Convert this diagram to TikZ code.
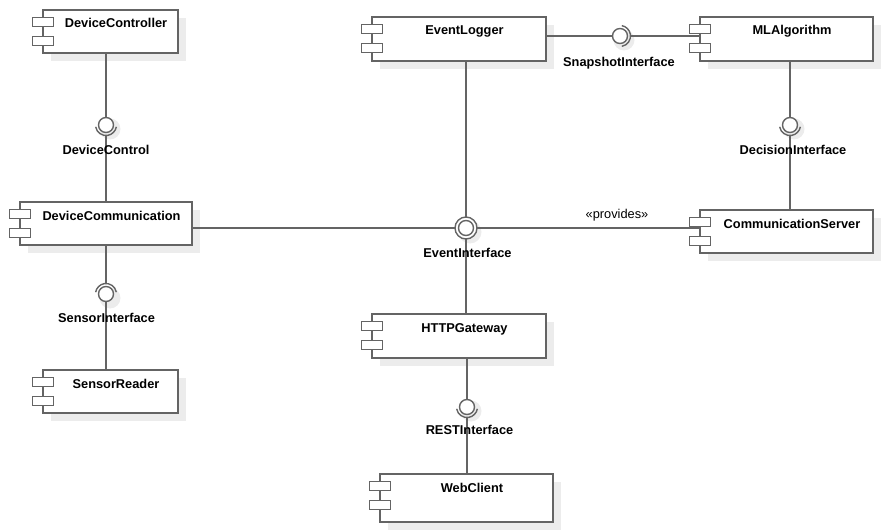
\documentclass[tikz,border=0pt]{standalone}
\usepackage{fontspec}
\setmainfont{Liberation Sans}
\definecolor{linec}{RGB}{100,100,100}
\definecolor{shadc}{RGB}{236,236,236}
\pgfdeclarelayer{bg}
\pgfdeclarelayer{fg}
\pgfsetlayers{bg,main,fg}
\tikzset{
  conn/.style={draw=linec, line width=1.4pt},
  compbox/.style={draw=linec, line width=1.4pt, fill=white, rectangle, inner sep=0pt, outer sep=0pt},
  portbox/.style={draw=linec, line width=1.4pt, fill=white},
  ttl/.style={font=\fontsize{12.8}{15}\selectfont\bfseries, inner sep=0pt, anchor=base, text=black},
  stereo/.style={font=\fontsize{12.8}{15}\selectfont, inner sep=0pt, anchor=base, text=black},
  ballnode/.style={circle, draw=linec, line width=1.4pt, fill=white, minimum size=15pt, inner sep=0pt, outer sep=0pt},
  shad/.style={fill=shadc},
}
% #1 name, #2 left, #3 top, #4 right, #5 bottom, #6 text
\newcommand\umlcomp[6]{%
  \begin{pgfonlayer}{bg}
    \fill[shad] (#2+8,-#3-8) rectangle (#4+8,-#5-8);
  \end{pgfonlayer}
  \node[compbox, minimum width={(#4-#2)*1pt}, minimum height={(#5-#3)*1pt}] (#1) at ({(#2+#4)/2},{-(#3+#5)/2}) {};
  \begin{pgfonlayer}{fg}
    \draw[portbox] (#2-10.5,-#3-7.5) rectangle (#2+10.5,-#3-16.5);
    \draw[portbox] (#2-10.5,-#3-26.5) rectangle (#2+10.5,-#3-35.5);
    \node[ttl] (#1-t) at ({(#2+#4)/2+5.5},-#3-18) {#6};
  \end{pgfonlayer}
}
% #1 name, #2 x, #3 y, #4 socket angle, #5 text, #6 label x, #7 label y
\newcommand\lolli[7]{%
  \begin{pgfonlayer}{bg}
    \fill[shad] (#2+4,-#3-4) circle (10.5);
  \end{pgfonlayer}
  \node[ballnode] (#1) at (#2,-#3) {};
  \draw[conn] ([shift={(#4-80:10.5pt)}]#1.center) arc[start angle=#4-80, end angle=#4+80, radius=10.5pt];
  \coordinate (#1-s) at ([shift={(#4:10.5pt)}]#1.center);
  \begin{pgfonlayer}{fg}
    \node[ttl] (#1-l) at (#6,-#7-4.6) {#5};
  \end{pgfonlayer}
}
\begin{document}
\begin{tikzpicture}[x=1pt,y=1pt]
\useasboundingbox (0,0) rectangle (884,-532);

\umlcomp{devctl}{43}{10}{178}{53}{DeviceController}
\umlcomp{devcom}{20}{202}{192}{245}{DeviceCommunication}
\umlcomp{sensor}{43}{370}{178}{413}{SensorReader}
\umlcomp{evlog}{372}{17}{546}{61}{EventLogger}
\umlcomp{ml}{700}{17}{873}{61}{MLAlgorithm}
\umlcomp{csrv}{700}{210}{873}{253}{CommunicationServer}
\umlcomp{http}{372}{314}{546}{358}{HTTPGateway}
\umlcomp{web}{380}{474}{553}{522}{WebClient}

\lolli{dctrl}{106}{125}{270}{DeviceControl}{106}{150}
\lolli{sens}{106}{294}{90}{SensorInterface}{106.5}{318}
\lolli{snap}{620}{36}{0}{SnapshotInterface}{619}{62}
\lolli{dec}{790}{125}{270}{DecisionInterface}{793}{150}
\lolli{rest}{467}{407}{270}{RESTInterface}{469.5}{430}

\begin{pgfonlayer}{bg}
  \fill[shad] (470,-232) circle (11.5);
\end{pgfonlayer}
\node[circle, draw=linec, line width=1.4pt, fill=white, minimum size=22pt, inner sep=0pt, outer sep=0pt] (evi) at (466,-228) {};
\node[ballnode] (eviin) at (evi.center) {};
\begin{pgfonlayer}{fg}
  \node[ttl] (evil) at (467.5,-257.6) {EventInterface};
  \node[stereo] (prov) at (617,-218.6) {«provides»};
\end{pgfonlayer}

\draw[conn] (dctrl.north |- devctl.south) -- (dctrl.north);
\draw[conn] (dctrl-s) -- (dctrl-s |- devcom.north);
\draw[conn] (sens-s |- devcom.south) -- (sens-s);
\draw[conn] (sens.south) -- (sens.south |- sensor.north);
\draw[conn] (snap.west -| evlog.east) -- (snap.west);
\draw[conn] (snap-s) -- (snap-s -| ml.west);
\draw[conn] (dec.north |- ml.south) -- (dec.north);
\draw[conn] (dec-s) -- (dec-s |- csrv.north);
\draw[conn] (evi.north |- evlog.south) -- (evi.north);
\draw[conn] (evi.south) -- (evi.south |- http.north);
\draw[conn] (evi.west -| devcom.east) -- (evi.west);
\draw[conn] (evi.east) -- (evi.east -| csrv.west);
\draw[conn] (rest.north |- http.south) -- (rest.north);
\draw[conn] (rest-s) -- (rest-s |- web.north);
\end{tikzpicture}
\end{document}
